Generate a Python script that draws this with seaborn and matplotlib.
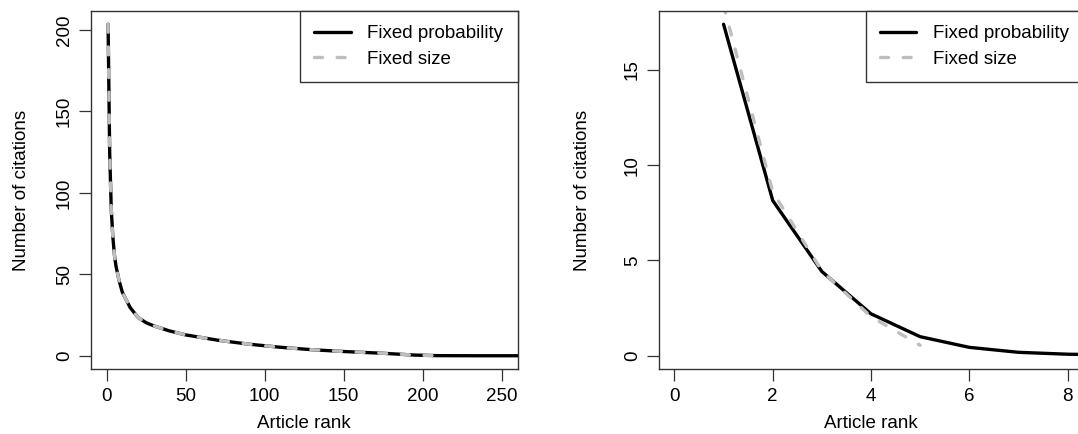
import matplotlib
matplotlib.use("Agg")
import matplotlib.pyplot as plt
import seaborn as sns

# data
# left panel: whole ranking
rank_prob = [1, 2, 3, 4, 5, 6, 8, 10, 15, 20, 25, 30, 40, 50, 70, 90, 110, 130, 150, 175, 195, 210, 230, 270]
cites_prob = [203.5, 125, 90, 73, 62, 55, 46, 39, 29.5, 23.5, 20.3, 18.3, 15.2, 12.8, 9.6, 7.1, 5.2, 3.7, 2.6, 1.5, 0.4, 0.05, 0.0, 0.0]
rank_size = [1, 2, 3, 4, 5, 6, 8, 10, 15, 20, 25, 30, 40, 50, 70, 90, 110, 130, 150, 175, 195, 210]
cites_size = [203.5, 125, 90, 73, 62, 55, 46, 39, 29.5, 23.5, 20.3, 18.3, 15.2, 12.8, 9.6, 7.1, 5.2, 3.7, 2.6, 1.5, 0.4, 0.05]

# right panel: top ranks only
rank_prob_top = [1, 2, 3, 4, 5, 6, 7, 8, 9]
cites_prob_top = [17.4, 8.15, 4.42, 2.2, 1.0, 0.44, 0.18, 0.08, 0.04]
rank_size_top = [1, 2, 3, 4, 5]
cites_size_top = [18.4, 8.6, 4.45, 2.05, 0.55]

sns.set_style("white")
plt.rcParams['font.family'] = ['Liberation Sans', 'DejaVu Sans']
plt.rcParams['text.color'] = 'black'
plt.rcParams['axes.labelcolor'] = 'black'
plt.rcParams['xtick.labelcolor'] = 'black'
plt.rcParams['ytick.labelcolor'] = 'black'
fs = 13.5
edge = "#333333"

fig = plt.figure(figsize=(10.78, 4.34), dpi=100)
ax1 = fig.add_axes([0.08414, 0.14977, 0.39592, 0.82488])
ax2 = fig.add_axes([0.61104, 0.14977, 0.39388, 0.82488])


def draw(ax, x1, y1, x2, y2):
    sns.lineplot(x=x1, y=y1, ax=ax, color="black", lw=2.4, label="Fixed probability",
                 solid_capstyle="round", solid_joinstyle="round")
    sns.lineplot(x=x2, y=y2, ax=ax, color="#bebebe", lw=2.4, label="Fixed size",
                 linestyle=(0, (2.4, 4.4)), dash_capstyle="round")
    for s in ax.spines.values():
        s.set_visible(True)
        s.set_color(edge)
        s.set_linewidth(1.0)
    ax.tick_params(direction="out", length=8.4, width=0.9, color=edge,
                   labelsize=fs, pad=5, left=True, bottom=True)
    ax.tick_params(axis="y", labelrotation=90, pad=4.5)
    for t in ax.get_yticklabels():
        t.set_va("center")
    ax.set_xlabel("Article rank", fontsize=fs, va="center")
    ax.set_ylabel("Number of citations", fontsize=fs, va="center")
    ax.xaxis.set_label_coords(0.5, -0.153)
    leg = ax.legend(loc="upper right", fontsize=fs, frameon=True, fancybox=False,
                    edgecolor=edge, framealpha=1, borderaxespad=0, borderpad=0.75,
                    handlelength=1.95, handletextpad=0.9, labelspacing=0.45)
    leg.get_frame().set_linewidth(1.0)


draw(ax1, rank_prob, cites_prob, rank_size, cites_size)
ax1.set_xlim(-10, 260)
ax1.set_ylim(-8.14, 211.64)
ax1.set_xticks([0, 50, 100, 150, 200, 250])
ax1.set_yticks([0, 50, 100, 150, 200])
ax1.yaxis.set_label_coords(-0.163, 0.5)

draw(ax2, rank_prob_top, cites_prob_top, rank_size_top, cites_size_top)
ax2.set_xlim(-0.32, 8.32)
ax2.set_ylim(-0.696, 18.096)
ax2.set_xticks([0, 2, 4, 6, 8])
ax2.set_yticks([0, 5, 10, 15])
ax2.yaxis.set_label_coords(-0.18, 0.5)

fig.savefig("out.png", dpi=100)
